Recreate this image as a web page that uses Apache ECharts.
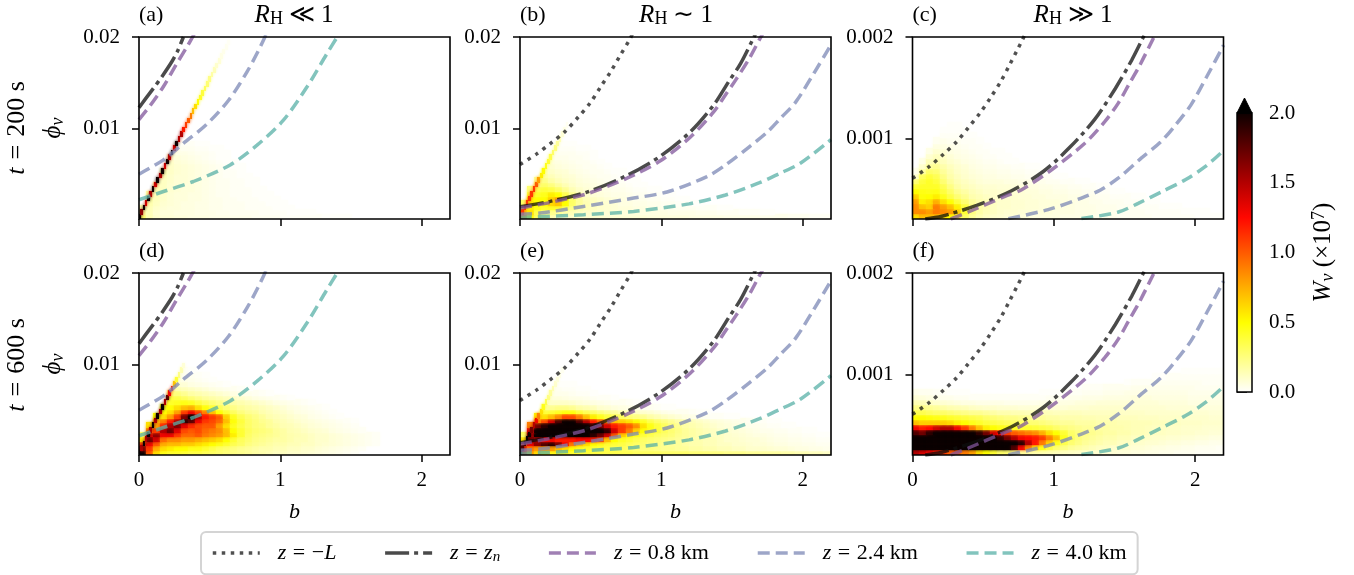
<!DOCTYPE html>
<html>
<head>
<meta charset="utf-8">
<script src="https://cdn.jsdelivr.net/npm/echarts@6/dist/echarts.min.js"></script>
<style>
  html, body { margin: 0; padding: 0; background: #fff; }
  #main { width: 1354px; height: 575px; }
</style>
</head>
<body>
<div id="main"></div>
<script>
// ---- curves: [b, phi] ----
// panels (a), (d)
var curveZnA = [[0, 0.0123], [0.043, 0.0132], [0.102, 0.0144], [0.161, 0.01565], [0.232, 0.0173], [0.274, 0.0185], [0.314, 0.02]];
var curve08A = [[0, 0.011], [0.078, 0.0125], [0.173, 0.0146], [0.267, 0.0171], [0.338, 0.0189], [0.39, 0.0203]];
var curve24A = [[0, 0.00504], [0.173, 0.0066], [0.314, 0.0084], [0.48, 0.0105], [0.634, 0.0131], [0.764, 0.0162], [0.846, 0.01855], [0.9, 0.0203]];
var curve40A = [[0, 0.00225], [0.173, 0.00315], [0.385, 0.00424], [0.645, 0.00605], [0.835, 0.0082], [1.02, 0.0109], [1.19, 0.0146], [1.33, 0.0182], [1.414, 0.0203]];
// panels (b), (e)
var curveLB = [[0, 0.0061], [0.118, 0.00725], [0.225, 0.0085], [0.319, 0.0097], [0.414, 0.0113], [0.496, 0.0128], [0.572, 0.0146], [0.645, 0.0163], [0.709, 0.018], [0.775, 0.0197], [0.8, 0.0205]];
var curveZnB = [[0, 0.0015], [0.213, 0.00207], [0.473, 0.00308], [0.757, 0.0049], [0.993, 0.007], [1.206, 0.00967], [1.371, 0.0126], [1.475, 0.0151], [1.56, 0.0171], [1.652, 0.0199], [1.665, 0.0203]];
var curve08B = [[0, 0.00135], [0.213, 0.00195], [0.473, 0.0029], [0.757, 0.0046], [0.993, 0.0065], [1.206, 0.0091], [1.371, 0.01185], [1.454, 0.0137], [1.525, 0.0153], [1.62, 0.0176], [1.7, 0.0199], [1.715, 0.0203]];
var curve24B = [[0, 0.00068], [0.142, 0.0008], [0.449, 0.00152], [0.804, 0.00243], [1.04, 0.0031], [1.323, 0.00478], [1.454, 0.00604], [1.62, 0.008], [1.75, 0.00964], [1.845, 0.01117], [1.95, 0.0129], [2.08, 0.01607], [2.19, 0.0189], [2.2, 0.0192]];
var curve40B = [[0, 0.0003], [0.449, 0.00062], [0.804, 0.00098], [1.195, 0.0018], [1.454, 0.00277], [1.69, 0.00408], [1.845, 0.00517], [1.986, 0.00626], [2.18, 0.00855], [2.2, 0.0088]];
// panels (c), (f)
var curveLC = [[0, 0.000605], [0.118, 0.00072], [0.219, 0.000843], [0.313, 0.000967], [0.395, 0.001105], [0.478, 0.00125], [0.553, 0.001403], [0.623, 0.001557], [0.685, 0.00172], [0.744, 0.00188], [0.776, 0.001967], [0.8, 0.00204]];
var curveZnC = [[0.09, 0.000203], [0.207, 0.00023], [0.454, 0.000338], [0.701, 0.000482], [0.925, 0.000672], [1.118, 0.000918], [1.289, 0.001187], [1.435, 0.001492], [1.55, 0.00177], [1.63, 0.00199], [1.645, 0.00203]];
var curve08C = [[0.27, 0.000203], [0.395, 0.000272], [0.654, 0.000426], [0.772, 0.000492], [0.984, 0.000689], [1.219, 0.000951], [1.36, 0.001164], [1.457, 0.00135], [1.53, 0.00153], [1.6, 0.0017], [1.705, 0.00199], [1.72, 0.00203]];
var curve24C = [[0.678, 0.000207], [0.96, 0.000295], [1.195, 0.00041], [1.33, 0.00049], [1.457, 0.000608], [1.62, 0.000806], [1.755, 0.000963], [1.86, 0.00113], [1.97, 0.00133], [2.08, 0.001605], [2.19, 0.00189], [2.2, 0.00192]];
var curve40C = [[1.195, 0.000207], [1.457, 0.000272], [1.6, 0.00036], [1.76, 0.00047], [1.93, 0.00059], [2.07, 0.00072], [2.19, 0.000865], [2.2, 0.00088]];

// ---- W_v estimates, in units of 0.01e7: each row is [first column, values...], bottom row first ----
var wA = [
  [0, 30,15,10,8,8,7,7,6,6,6,5,5,5,4,4,4,3,3,3,3,2,2,2,2,2,2,1,1,1,1],
  [0, 20,14,9,7,7,6,6,6,5,5,5,4,4,3,3,3,3,2,2,2,2,1,1,1,1],
  [0, 16,14,10,8,7,7,6,6,5,5,4,4,3,3,3,2,2,2,2,1,1,1],
  [1, 16,12,9,8,7,6,6,5,5,4,4,3,3,3,2,2,2,1,1,1],
  [1, 18,13,10,8,7,7,6,6,5,4,4,3,3,2,2,2,1,1,1],
  [1, 18,14,10,8,7,7,6,6,5,4,3,3,2,2,2,1,1,1],
  [2, 15,12,9,8,7,7,6,5,4,3,3,2,2,2,1,1],
  [2, 16,12,9,8,7,7,6,5,4,3,3,2,2,1,1],
  [3, 12,10,8,8,7,6,5,4,3,3,2,2,1,1],
  [3, 14,10,8,8,7,6,5,4,3,2,2,1,1],
  [3, 15,11,9,8,7,6,5,4,3,2,2,1],
  [4, 11,9,8,7,6,5,4,3,2,1,1],
  [4, 11,8,7,6,5,4,3,2,1,1],
  [4, 9,7,6,5,4,3,2,1,1],
  [5, 5,5,4,3,3,2,1,1],
  [5, 4,3,3,2,2,1,1],
  [5, 2,2,2,1,1]
];
var wB = [
  [0, 90,50,30,20,15,12,10,10,9,9,9,9,8,8,8,8,8,8,7,7,7,7,7,7,6,6,6,6,6,5,5,5,5,5,4,4,4,4,3,3,3,2,2,2],
  [0, 70,60,35,25,22,20,16,14,12,10,10,9,8,8,7,7,7,6,6,6,6,5,5,5,5,4,4,4,3,3,3,2,2,2,1,1],
  [0, 50,55,45,40,42,40,30,22,16,14,12,10,9,8,7,7,6,6,5,5,4,4,3,3,3,2,2,2,1,1],
  [0, 30,60,50,50,62,68,50,30,20,15,12,10,9,8,6,6,5,5,4,4,3,3,2,2,1,1],
  [1, 50,50,50,65,80,50,30,20,14,12,10,8,7,6,5,4,4,3,3,2,2,1,1],
  [1, 40,42,45,55,50,35,22,15,10,8,7,6,5,5,4,3,3,2,2,1,1],
  [1, 28,36,38,36,30,22,15,11,8,7,6,5,4,4,3,2,2,1,1],
  [2, 26,30,26,20,15,11,8,7,6,5,4,3,3,2,1,1],
  [2, 22,24,18,14,11,9,7,6,5,4,3,2,2,1,1],
  [3, 18,14,11,9,8,6,5,4,3,3,2,1,1],
  [3, 14,11,9,8,6,5,4,3,3,2,1,1],
  [4, 9,7,6,5,4,3,3,2,1],
  [4, 7,6,5,4,3,3,2,1],
  [4, 5,4,4,3,3,2,1],
  [5, 3,3,3,2,2,1],
  [5, 2,2,2,1,1],
  [5, 1,1,1]
];
var wC = [
  [0, 60,70,70,70,60,50,40,30,20,15,12,10,9,8,8,7,7,6,6,6,6,5,5,5,5,4,4,4,4,3,3,3,3,3,2,2,2,2,2,2,1,1,1,1],
  [0, 85,85,80,90,85,80,65,40,25,18,14,12,10,9,9,8,8,7,7,7,6,6,6,5,5,5,4,4,4,3,3,3,3,2,2,2,2,2,1,1,1,1],
  [0, 85,70,65,90,80,70,55,38,25,18,15,12,10,10,9,9,8,8,7,7,7,6,6,5,5,5,4,4,4,3,3,3,2,2,2,1,1,1],
  [0, 80,55,60,75,60,50,38,28,20,16,14,12,10,10,9,9,8,8,7,7,7,6,6,5,5,4,4,3,3,3,2,2,2,1,1],
  [0, 65,48,50,55,45,36,28,22,16,14,12,10,10,9,9,8,8,7,7,6,6,6,5,5,4,4,3,3,2,2,2,1,1],
  [0, 50,46,45,46,38,30,22,18,14,12,10,10,9,9,8,8,7,7,6,6,5,5,4,4,3,3,2,2,1,1],
  [0, 40,42,42,42,34,25,18,14,12,10,9,9,8,8,7,7,6,6,5,5,4,4,3,3,2,2,1,1],
  [0, 28,38,42,38,28,20,15,12,10,8,7,7,7,6,6,5,5,4,4,3,3,2,2,1,1],
  [0, 10,32,38,34,24,17,13,10,8,7,6,6,5,5,4,4,3,3,2,2,1,1],
  [0, 4,18,30,28,20,15,11,9,7,6,5,5,4,4,3,3,2,2,1,1],
  [1, 10,20,22,17,13,10,8,6,5,4,4,3,3,2,2,1,1],
  [1, 5,14,16,13,10,8,6,5,4,3,3,2,1,1],
  [2, 9,13,11,8,6,5,4,3,2,2,1,1],
  [2, 5,9,8,6,5,4,3,2,2,1,1],
  [3, 6,6,5,4,3,2,2,1],
  [3, 3,4,3,3,2,2,1],
  [4, 2,2,2,1,1],
  [4, 1,1,1,1],
  [5, 1,1]
];
var wD = [
  [0, 200,100,60,45,40,40,38,35,35,32,30,28,26,24,22,20,18,16,14,12,12,10,10,9,8,7,6,5,4,3,2],
  [0, 170,110,75,60,55,50,50,45,45,40,35,30,28,25,22,20,18,16,16,14,14,12,12,10,10,8,7,6,5,4,3,2],
  [0, 110,130,100,75,70,70,65,65,60,55,50,45,40,34,30,25,22,20,18,16,16,14,14,12,12,10,9,8,7,6,5,4,3,2],
  [0, 60,170,140,95,85,85,80,80,75,70,65,60,50,40,32,28,24,22,20,18,18,16,14,14,12,10,10,8,7,6,5,4,3,2],
  [0, 30,130,160,130,130,110,95,95,100,90,85,80,70,55,40,30,26,24,22,20,18,16,15,14,12,10,10,8,7,6,5,4,3,2],
  [1, 90,110,150,170,135,105,100,105,95,90,85,70,50,40,32,28,26,24,20,18,15,14,12,10,9,8,6,5,4,3,2],
  [1, 60,80,115,150,165,135,115,105,100,100,80,60,44,36,30,26,24,20,18,15,14,12,10,8,7,6,5,4,3,2],
  [2, 70,90,120,150,190,175,130,110,105,95,70,48,38,30,26,22,20,16,14,12,10,8,7,6,5,4,3,2,1],
  [2, 50,60,80,110,165,200,150,120,110,100,65,44,34,28,24,20,16,14,12,10,8,7,5,4,3,2,1],
  [3, 50,60,80,110,130,110,90,70,50,40,32,26,22,20,16,14,12,10,8,6,5,4,3,2,1],
  [3, 45,50,60,70,75,60,48,40,34,28,24,20,18,16,14,12,10,8,6,5,4,3,2,1],
  [4, 42,44,46,44,38,32,28,24,20,18,16,14,12,10,8,6,5,4,3,2,1],
  [4, 38,36,32,28,24,20,18,16,14,12,10,8,6,5,4,3,2,1],
  [4, 28,26,22,18,16,14,12,10,8,6,5,4,3,2,1],
  [5, 16,14,12,10,8,6,5,4,3,2,1],
  [5, 9,8,6,5,4,3,2,1],
  [5, 5,5,4,3,2,1],
  [6, 3,3,2,1],
  [6, 2,1]
];
var wE = [
  [0, 120,80,60,50,45,45,45,40,38,38,36,36,35,35,34,34,32,32,32,32,30,30,30,30,28,28,28,26,26,24,24,24,22,22,20,20,20,18,18,16,16,14,14,12],
  [0, 120,90,80,80,80,70,60,50,45,42,40,38,36,34,32,30,28,26,26,24,22,22,20,20,18,18,16,16,14,14,12,12,10,10,10,9,8,8,7,6,6,5,5,4],
  [0, 90,130,160,180,190,170,130,90,70,60,50,45,40,38,36,32,30,28,26,24,22,20,20,18,16,16,14,14,12,12,10,10,9,8,8,7,6,6,5,5,4,4,3,3],
  [0, 60,170,150,130,130,120,120,120,125,125,120,110,70,50,42,38,34,30,28,26,24,22,20,18,16,16,14,14,12,10,10,9,8,8,7,6,5,5,4,4,3,3,2,2],
  [0, 30,150,200,200,200,200,200,200,200,200,190,170,140,100,65,52,44,38,34,30,28,26,22,20,18,16,14,12,12,10,9,8,7,6,6,5,4,4,3,3,2,2,1,1],
  [1, 130,200,200,200,200,200,200,200,200,200,200,190,140,110,90,65,50,44,38,32,28,24,20,18,16,14,12,10,9,8,7,6,5,4,4,3,3,2,2,1,1],
  [1, 90,170,190,200,200,200,200,200,200,190,170,140,120,110,100,85,60,46,38,32,26,22,18,16,14,12,10,8,7,6,5,4,4,3,2,2,1,1],
  [2, 80,105,140,180,200,200,180,150,120,100,80,70,65,60,52,44,36,30,26,22,18,16,14,12,10,8,7,6,5,4,3,2,2,1,1],
  [2, 55,60,70,85,105,105,90,70,55,45,38,34,32,28,25,22,18,15,12,10,8,6,5,4,3,2,2,1,1],
  [3, 38,40,44,48,48,40,34,30,26,22,20,16,14,12,10,9,7,5,4,3,3,2,1,1],
  [3, 20,22,24,24,22,18,16,14,10,9,7,6,5,4,3,3,2,1,1],
  [4, 11,11,11,10,8,7,6,5,4,3,3,2,1,1],
  [4, 7,7,6,5,5,4,3,2,2,1],
  [4, 4,4,4,3,2,2,1],
  [5, 3,2,2,1,1],
  [5, 1,1,1]
];
var wF = [
  [0, 150,140,130,120,110,100,100,90,80,60,50,40,30,28,24,20,18,16,15,14,13,12,11,10,10,9,9,8,8,7,7,6,6,5,5,4,4,3,3,3,2,2,2,2],
  [0, 200,200,200,200,200,200,200,200,200,200,200,200,200,200,180,130,90,60,45,35,28,24,20,18,16,14,12,12,10,10,9,8,8,7,6,6,5,5,4,4,3,3,3,2],
  [0, 200,200,200,200,200,200,200,200,200,200,200,200,200,200,200,190,150,120,90,65,45,35,28,24,20,18,16,14,14,12,12,10,10,9,9,8,7,7,6,6,5,5,4,4],
  [0, 200,200,200,200,200,200,200,200,200,200,200,200,190,170,150,130,125,120,110,90,70,45,32,26,22,20,18,16,16,14,14,12,12,11,10,10,9,9,8,8,7,7,6,6],
  [0, 180,170,190,200,200,200,200,200,200,190,170,140,125,110,100,95,90,85,75,60,50,40,30,26,24,22,20,18,18,16,16,14,14,13,12,12,11,11,10,10,9,9,8,8],
  [0, 130,120,125,140,150,150,130,110,90,70,55,50,46,44,42,40,40,38,36,34,30,26,24,22,20,20,18,18,16,16,15,14,14,13,12,12,11,11,10,10,10,9,9,9],
  [0, 70,65,65,65,65,62,55,50,45,42,38,36,34,32,30,30,28,28,26,24,22,20,20,18,18,18,16,16,16,15,15,14,14,14,13,13,12,12,11,11,11,10,10,10],
  [0, 50,50,48,46,45,42,40,38,36,34,30,28,26,24,24,22,22,20,20,18,18,16,16,16,15,15,14,14,14,13,13,13,12,12,12,11,11,11,10,10,10,10,9,9],
  [0, 35,35,32,30,30,28,26,24,22,22,20,18,16,16,15,15,14,14,14,14,13,13,13,13,12,12,12,12,12,11,11,11,11,10,10,10,10,10,9,9,9,9,8,8],
  [0, 24,24,22,20,18,16,15,14,12,11,10,10,9,9,9,8,8,8,8,8,8,8,9,9,9,10,10,10,10,10,10,9,9,9,9,9,8,8,8,8,7,7,7,7],
  [0, 15,14,12,10,9,8,7,6,6,5,5,5,5,4,4,4,4,4,5,5,5,6,6,7,7,7,8,8,8,8,8,8,8,8,8,7,7,7,7,6,6,6,6,6],
  [0, 8,7,6,5,4,4,3,3,2,2,2,2,2,2,2,2,2,2,2,3,3,3,4,4,5,5,5,6,6,6,6,7,7,7,6,6,6,6,6,5,5,5,5,5],
  [0, 4,3,3,2,2,1,1,1,0,0,0,0,0,0,0,0,0,0,1,1,1,1,2,2,3,3,3,4,4,4,5,5,5,5,5,5,5,5,5,4,4,4,4,4],
  [24, 2,2,2,3,3,3,3,4,4,4,4,4,4,4,4,4,3,3,3,3],
  [30, 1,2,2,2,3,3,3,3,3,3,3,2,2,2],
  [34, 1,1,2,2,2,2,2,2,2,2],
  [38, 1,1,1,1,1,1]
];

// thin bright ridge, one narrow cell per row of the fine grid (a, b, d, e)
var ridgeB = [0.005, 0.02, 0.035, 0.05, 0.067, 0.083, 0.1, 0.117, 0.133, 0.15, 0.167, 0.183, 0.2, 0.217, 0.233, 0.25, 0.267, 0.283, 0.3, 0.317, 0.333, 0.35, 0.367, 0.383, 0.4, 0.417, 0.433, 0.45, 0.467, 0.483, 0.5, 0.517, 0.533, 0.55, 0.567, 0.583, 0.6, 0.617, 0.633];
var ridgeA = [200, 160, 200, 140, 200, 150, 200, 140, 200, 150, 200, 140, 200, 150, 200, 140, 200, 150, 150, 120, 110, 100, 90, 70, 60, 50, 42, 38, 32, 28, 24, 18, 14, 10, 8, 5, 4, 3, 2];
var ridgeD = [200, 150, 200, 150, 200, 150, 200, 150, 200, 150, 200, 150, 180, 130, 120, 70, 40, 25, 15, 8];
var ridgeBp = [100, 110, 110, 110, 110, 110, 110, 100, 80, 55, 50, 45, 40, 35, 30, 25, 20, 14, 8, 5, 3];
var ridgeE = [180, 180, 180, 200, 200, 170, 150, 130, 90, 60, 45, 35, 25, 20, 15, 10, 7, 5, 3];

var xTicks = [0, 1, 2];
var yTicksFine = [0.01, 0.02];
var yTicksSmall = [0.001, 0.002];

var W_UNIT = 100;
var CELL_B = 0.05;
var RIDGE_WIDTH = 0.012;
var SERIF = '"Liberation Serif", serif';
var hotColors = ['#ffffff', '#ffff80', '#ffff00', '#ffae00', '#ff5a00', '#ff0700', '#b20000', '#5e0000', '#0b0000'];
var lineColors = {
  dot: 'rgba(22,22,22,0.75)',
  zn: 'rgba(14,14,14,0.75)',
  km08: 'rgba(128,85,155,0.75)',
  km24: 'rgba(124,136,182,0.75)',
  km40: 'rgba(88,176,167,0.75)'
};
var legendNames = ['z=-L', 'z=zn', 'z=0.8 km', 'z=2.4 km', 'z=4.0 km'];
var legendLabels = {
  'z=-L': '{i|z}{eq|=}{n|\u2212}{i|L}',
  'z=zn': '{i|z}{eq|=}{i|z}{s|n}',
  'z=0.8 km': '{i|z}{eq|=}{n|0.8 km}',
  'z=2.4 km': '{i|z}{eq|=}{n|2.4 km}',
  'z=4.0 km': '{i|z}{eq|=}{n|4.0 km}'
};
function makeRich(size, eqGap) {
  var small = Math.round(size * 0.7);
  return {
    i: { fontFamily: SERIF, fontStyle: 'italic', fontSize: size, color: '#000' },
    n: { fontFamily: SERIF, fontSize: size, color: '#000' },
    eq: { fontFamily: SERIF, fontSize: size, color: '#000', padding: [0, eqGap, 0, eqGap] },
    s: { fontFamily: SERIF, fontStyle: 'italic', fontSize: small, color: '#000', padding: [small / 2, 0, 0, 0] },
    t: { fontFamily: SERIF, fontSize: small, color: '#000', padding: [small / 2, 0, 0, 0] },
    sup: { fontFamily: SERIF, fontSize: small, color: '#000', padding: [0, 0, small / 2, 0] }
  };
}
var richText = makeRich(22, 6.5);
var richBig = makeRich(25, 6);
var richRow = makeRich(26, 8);

var panelLefts = [139, 520, 912.5];
var panelTops = [37, 273];
var PANEL_W = 311;
var PANEL_H = 182;

// rows -> cells [b, phi, w, cell width]
function buildCells(rows, ridge, phi0, dPhi) {
  var cells = [];
  rows.forEach(function (row, r) {
    for (var k = 1; k < row.length; k++) {
      if (row[k] > 0) {
        cells.push([(row[0] + k - 1) * CELL_B, phi0 + r * dPhi, row[k] / W_UNIT, CELL_B]);
      }
    }
  });
  if (ridge) {
    ridge.forEach(function (w, r) {
      cells.push([ridgeB[r] - RIDGE_WIDTH / 2, phi0 + r * dPhi, w / W_UNIT, RIDGE_WIDTH]);
    });
  }
  return cells;
}

function renderCell(dPhi) {
  return function (params, api) {
    var b = api.value(0), phi = api.value(1);
    var p0 = api.coord([b, phi + dPhi]);
    var p1 = api.coord([b + api.value(3), phi]);
    var x0 = Math.floor(p0[0]), y0 = Math.floor(p0[1]);
    var color = api.visual('color');
    return {
      type: 'rect',
      shape: { x: x0, y: y0, width: Math.ceil(p1[0]) - x0, height: Math.ceil(p1[1]) - y0 },
      style: { fill: color, shadowBlur: 3, shadowColor: color }
    };
  };
}

var panels = [
  { row: 0, col: 0, tag: '(a)', w: wA, ridge: ridgeA, curves: [null, curveZnA, curve08A, curve24A, curve40A] },
  { row: 0, col: 1, tag: '(b)', w: wB, ridge: ridgeBp, curves: [curveLB, curveZnB, curve08B, curve24B, curve40B] },
  { row: 0, col: 2, tag: '(c)', w: wC, ridge: null, small: true, curves: [curveLC, curveZnC, curve08C, curve24C, curve40C] },
  { row: 1, col: 0, tag: '(d)', w: wD, ridge: ridgeD, curves: [null, curveZnA, curve08A, curve24A, curve40A] },
  { row: 1, col: 1, tag: '(e)', w: wE, ridge: ridgeE, curves: [curveLB, curveZnB, curve08B, curve24B, curve40B] },
  { row: 1, col: 2, tag: '(f)', w: wF, ridge: null, small: true, curves: [curveLC, curveZnC, curve08C, curve24C, curve40C] }
];

var lineStyles = [
  { color: lineColors.dot, type: [3.5, 5.5] },
  { color: lineColors.zn, type: [24, 5, 4, 5] },
  { color: lineColors.km08, type: [12, 6] },
  { color: lineColors.km24, type: [12, 6] },
  { color: lineColors.km40, type: [12, 6] }
];

var grids = [], xAxes = [], yAxes = [], series = [], cellSeries = [], graphics = [];
var tickLine = { show: true, length: 7, inside: false, lineStyle: { color: '#000', width: 1.5 } };

panels.forEach(function (p, i) {
  var left = panelLefts[p.col], top = panelTops[p.row];
  var yMin = p.small ? 0.000203 : 0.00015;
  var dPhi = p.small ? 0.00005 : 0.0005;
  var yTicks = p.small ? yTicksSmall : yTicksFine;
  grids.push({ left: left, top: top, width: PANEL_W, height: PANEL_H });
  xAxes.push({
    gridIndex: i, type: 'value', min: 0, max: 2.2,
    splitLine: { show: false }, axisLine: { show: false },
    axisTick: Object.assign({ customValues: xTicks }, tickLine),
    axisLabel: { show: p.row === 1, customValues: xTicks, margin: 15, fontFamily: SERIF, fontSize: 21, color: '#000', formatter: function (v) { return String(v); } },
    name: p.row === 1 ? '{i|b}' : '', nameLocation: 'middle', nameGap: 46, nameTextStyle: { rich: richText }
  });
  yAxes.push({
    gridIndex: i, type: 'value', min: yMin, max: p.small ? 0.002 : 0.02,
    splitLine: { show: false }, axisLine: { show: false },
    axisTick: Object.assign({ customValues: yTicks }, tickLine),
    axisLabel: { customValues: yTicks, margin: 19, fontFamily: SERIF, fontSize: 21, color: '#000', formatter: function (v) { return String(v); } },
    name: p.col === 0 ? '{i|\u03d5}{s|\u03bd}' : '', nameLocation: 'middle', nameGap: 72, nameRotate: 90, nameTextStyle: { rich: richBig }
  });
  cellSeries.push(series.length);
  series.push({
    type: 'custom', coordinateSystem: 'cartesian2d', xAxisIndex: i, yAxisIndex: i, clip: true, silent: true,
    encode: { x: 0, y: 1 }, data: buildCells(p.w, p.ridge, yMin, dPhi), renderItem: renderCell(dPhi), z: 2
  });
  p.curves.forEach(function (pts, k) {
    if (!pts) return;
    series.push({
      type: 'line', name: legendNames[k], xAxisIndex: i, yAxisIndex: i, data: pts, smooth: 0.3,
      showSymbol: false, symbol: 'none', clip: true, silent: true, z: 3 + k,
      itemStyle: { color: lineStyles[k].color },
      lineStyle: { color: lineStyles[k].color, width: 3.5, type: lineStyles[k].type, cap: 'butt' }
    });
  });
  graphics.push({ type: 'rect', z: 100, shape: { x: left, y: top, width: PANEL_W, height: PANEL_H }, style: { fill: 'none', stroke: '#000', lineWidth: 1.6 } });
  graphics.push({ type: 'text', z: 100, x: left, y: top - 33, style: { text: p.tag, font: '22px ' + SERIF, fill: '#000' } });
});

// colour bar, on its own little axis
var barIndex = panels.length;
grids.push({ left: 1237, top: 113, width: 15, height: 279 });
xAxes.push({ gridIndex: barIndex, type: 'value', min: 0, max: 1, show: false });
yAxes.push({
  gridIndex: barIndex, type: 'value', position: 'right', min: 0, max: 2, interval: 0.5,
  splitLine: { show: false }, axisLine: { show: false },
  axisTick: { show: true, length: 10, lineStyle: { color: '#000', width: 1.5 } },
  axisLabel: { margin: 17, fontFamily: SERIF, fontSize: 21, color: '#000', formatter: function (v) { return v.toFixed(1); } },
  name: '{i|W}{s|\u03bd}{n| (\u00d710}{sup|7}{n|)}', nameLocation: 'middle', nameGap: 58, nameRotate: 90, nameTextStyle: { rich: richBig }
});
series.push({
  type: 'custom', coordinateSystem: 'cartesian2d', xAxisIndex: barIndex, yAxisIndex: barIndex, silent: true, z: 2,
  data: [[0, 0, 1, 2]],
  renderItem: function (params, api) {
    var p0 = api.coord([api.value(0), api.value(3)]);
    var p1 = api.coord([api.value(2), api.value(1)]);
    var stops = hotColors.map(function (c, i) { return { offset: 1 - i / (hotColors.length - 1), color: c }; });
    return {
      type: 'group', children: [
        { type: 'rect', shape: { x: p0[0], y: p0[1], width: p1[0] - p0[0], height: p1[1] - p0[1] },
          style: { fill: new echarts.graphic.LinearGradient(0, 0, 0, 1, stops), stroke: '#000', lineWidth: 1.5 } },
        { type: 'polygon', shape: { points: [[p0[0], p0[1]], [p1[0], p0[1]], [(p0[0] + p1[0]) / 2, p0[1] - 15]] },
          style: { fill: '#000', stroke: '#000', lineWidth: 1 } }
      ]
    };
  }
});

// row labels and column titles
function sideText(x, y, text, rich, rotation) {
  graphics.push({ type: 'text', z: 100, x: x, y: y, rotation: rotation || 0,
    style: { text: text, rich: rich, font: '25px ' + SERIF, fill: '#000', align: 'center', verticalAlign: 'middle' } });
}
sideText(17, 128, '{i|t}{eq|=}{n|200 s}', richRow, Math.PI / 2);
sideText(17, 365, '{i|t}{eq|=}{n|600 s}', richRow, Math.PI / 2);
sideText(294, 15, '{i|R}{t|H}{eq|\u226a}{n|1}', richBig);
sideText(676, 15, '{i|R}{t|H}{eq|\u223c}{n|1}', richBig);
sideText(1073, 15, '{i|R}{t|H}{eq|\u226b}{n|1}', richBig);

var option = {
  animation: false,
  backgroundColor: '#fff',
  grid: grids,
  xAxis: xAxes,
  yAxis: yAxes,
  visualMap: {
    show: false, type: 'continuous', min: 0, max: 2, dimension: 2,
    seriesIndex: cellSeries, inRange: { color: hotColors }
  },
  legend: {
    data: legendNames, left: 201, top: 532, orient: 'horizontal',
    itemWidth: 47, itemHeight: 20, itemGap: 47, padding: [10, 11, 10, 10],
    borderColor: '#d4d4d4', borderWidth: 2, borderRadius: 5, selectedMode: false,
    itemStyle: { opacity: 0 },
    lineStyle: { width: 3.5 },
    formatter: function (name) { return legendLabels[name]; },
    textStyle: { rich: richText, padding: [0, 0, 0, 13], fontFamily: SERIF, fontSize: 22 }
  },
  graphic: graphics,
  series: series
};

var myChart = echarts.init(document.getElementById('main'));
myChart.setOption(option);
</script>
</body>
</html>
